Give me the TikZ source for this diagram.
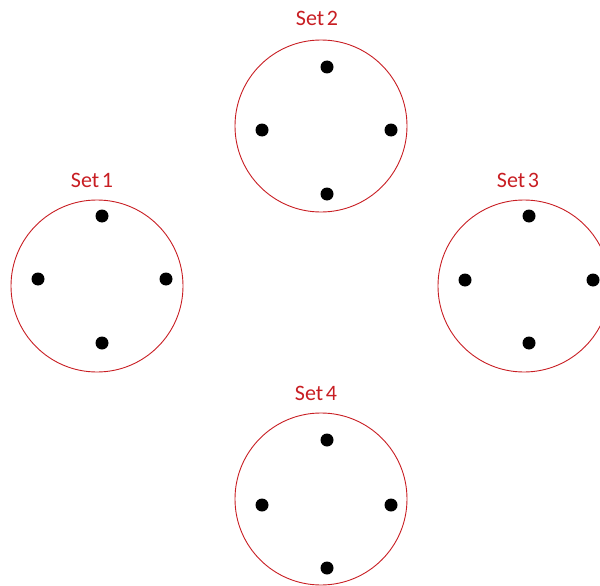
\documentclass[tikz,border=0pt]{standalone}
\usepackage{fontspec}
\setmainfont{Carlito}
\definecolor{setred}{RGB}{200,30,35}
\begin{document}
\begin{tikzpicture}[x=1pt,y=-1pt,
  setring/.style={circle,draw=setred,line width=0.9pt,minimum size=172pt,inner sep=0pt},
  dot/.style={circle,fill=black,minimum size=13pt,inner sep=0pt},
  setlabel/.style={text=setred,font=\fontsize{22}{24}\selectfont,inner sep=0pt}]
\useasboundingbox (0,0) rectangle (600,586);
% Set 1
\node[setring] (c1) at (97,286) {};
\node[setlabel] (l1) at (92,180) {Set\hspace{0.12em}1};
\node[dot] (d1t) at (102,216) {};
\node[dot] (d1l) at (38,279) {};
\node[dot] (d1r) at (166,279) {};
\node[dot] (d1b) at (102,343) {};
% Set 2
\node[setring] (c2) at (321,126) {};
\node[setlabel] (l2) at (317,18) {Set\hspace{0.12em}2};
\node[dot] (d2t) at (327,67) {};
\node[dot] (d2l) at (262,130) {};
\node[dot] (d2r) at (391,130) {};
\node[dot] (d2b) at (327,194) {};
% Set 3
\node[setring] (c3) at (524,286) {};
\node[setlabel] (l3) at (518,180) {Set\hspace{0.12em}3};
\node[dot] (d3t) at (529,216) {};
\node[dot] (d3l) at (465,280) {};
\node[dot] (d3r) at (593,280) {};
\node[dot] (d3b) at (529,343) {};
% Set 4
\node[setring] (c4) at (321,499) {};
\node[setlabel] (l4) at (316,393) {Set\hspace{0.12em}4};
\node[dot] (d4t) at (327,440) {};
\node[dot] (d4l) at (262,505) {};
\node[dot] (d4r) at (391,505) {};
\node[dot] (d4b) at (327,568) {};
\end{tikzpicture}
\end{document}
